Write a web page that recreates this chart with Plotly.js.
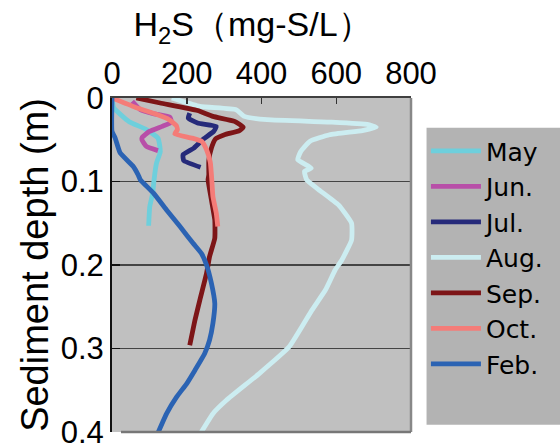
<!DOCTYPE html>
<html>
<head>
<meta charset="utf-8">
<script src="https://cdn.plot.ly/plotly-3.0.1.min.js"></script>
<style>html,body{margin:0;padding:0;background:#fff;}#chart{width:560px;height:446px;}</style>
</head>
<body>
<div id="chart"></div>
<script>
// H2S (mg-S/L) vs sediment depth (m)
const mayX = [0, 5, 45, 93, 123, 128, 129, 119, 112, 109, 101, 98];
const mayY = [0, 0.012, 0.028, 0.038, 0.048, 0.058, 0.065, 0.078, 0.1, 0.114, 0.130, 0.153];

const junX = [54, 76, 113, 155, 159, 134, 100, 81, 80, 92, 123];
const junY = [0.004, 0.014, 0.019, 0.023, 0.029, 0.034, 0.040, 0.047, 0.050, 0.058, 0.063];

const julX = [208, 204, 229, 279, 272, 245, 219, 190, 192, 237];
const julY = [0.018, 0.024, 0.030, 0.034, 0.040, 0.049, 0.060, 0.068, 0.075, 0.083];

const augX = [160, 235, 332, 354, 415, 588, 686, 707, 670, 582, 529, 505, 497, 533, 515, 521, 551, 606, 641, 641, 615, 597, 571, 535, 474, 394, 306, 270, 239];
const augY = [0, 0.010, 0.014, 0.022, 0.026, 0.029, 0.032, 0.035, 0.039, 0.044, 0.052, 0.064, 0.074, 0.084, 0.088, 0.098, 0.109, 0.128, 0.150, 0.170, 0.194, 0.206, 0.230, 0.254, 0.298, 0.330, 0.362, 0.378, 0.4];

const sepX = [65, 129, 229, 270, 328, 351, 341, 301, 277, 266, 259, 259, 257, 266, 275, 275, 261, 253, 235, 222, 208];
const sepY = [0, 0.006, 0.015, 0.022, 0.028, 0.035, 0.039, 0.044, 0.049, 0.060, 0.075, 0.092, 0.098, 0.122, 0.146, 0.168, 0.190, 0.210, 0.242, 0.266, 0.296];

const octX = [0, 62, 115, 153, 172, 175, 168, 214, 240, 253, 263, 267, 270, 279, 283];
const octY = [0, 0.011, 0.019, 0.026, 0.033, 0.038, 0.043, 0.048, 0.052, 0.062, 0.077, 0.098, 0.118, 0.138, 0.154];

const febX = [0, 0, 8.5, 22, 57, 70, 76, 111, 146, 182, 217, 239, 253, 266, 275, 270, 261, 248, 222, 200, 173, 146, 124];
const febY = [0, 0.040, 0.048, 0.066, 0.082, 0.092, 0.098, 0.114, 0.134, 0.154, 0.174, 0.186, 0.200, 0.222, 0.246, 0.270, 0.290, 0.306, 0.326, 0.342, 0.358, 0.378, 0.4];

const xTicks = [0, 200, 400, 600, 800];
const yTicks = [0, 0.1, 0.2, 0.3, 0.4];
const yTickText = ["0", "0.1", "0.2", "0.3", "0.4"];

const series = [
  {name: "May",  x: mayX, y: mayY, color: "#6ecfdc"},
  {name: "Jun.", x: junX, y: junY, color: "#b84fa8"},
  {name: "Jul.", x: julX, y: julY, color: "#262a7a"},
  {name: "Aug.", x: augX, y: augY, color: "#ccedf1"},
  {name: "Sep.", x: sepX, y: sepY, color: "#7d1517"},
  {name: "Oct.", x: octX, y: octY, color: "#f47c78"},
  {name: "Feb.", x: febX, y: febY, color: "#2b63b3"}
];

const traces = series.map(s => ({
  type: "scatter", mode: "lines", name: s.name, x: s.x, y: s.y,
  line: {color: s.color, width: 4.8, shape: "spline", smoothing: 0.4}
}));

const F = "Liberation Sans, Arial, sans-serif";
const layout = {
  width: 560, height: 446,
  margin: {l: 112, r: 147, t: 98, b: 14, pad: 0},
  paper_bgcolor: "#ffffff",
  plot_bgcolor: "#c0c0c0",
  font: {family: F, color: "#000", size: 30},
  showlegend: true,
  title: {
    text: "H<sub>2</sub>S（mg-S/L）",
    font: {family: F, size: 34, color: "#000"},
    xref: "paper", x: 0.47, xanchor: "center",
    yref: "container", y: 0.945, yanchor: "middle"
  },
  xaxis: {
    side: "top", range: [0, 800], tickvals: xTicks,
    ticks: "inside", ticklen: 6, tickcolor: "#333", tickwidth: 1.5,
    showgrid: false, zeroline: false,
    showline: true, linecolor: "#404040", linewidth: 2,
    tickfont: {family: F, size: 31, color: "#000"},
    fixedrange: true
  },
  yaxis: {
    range: [0.4, 0], tickvals: yTicks, ticktext: yTickText,
    ticks: "inside", ticklen: 8, tickcolor: "#111", tickwidth: 1.5,
    ticklabeloverflow: "allow",
    showgrid: true, gridcolor: "#444", gridwidth: 1.3,
    zeroline: false, showline: true, linecolor: "#111", linewidth: 2,
    tickfont: {family: F, size: 31, color: "#000"},
    title: {text: "Sediment depth (m)", font: {family: F, size: 38, color: "#000"}, standoff: 0},
    fixedrange: true
  },
  legend: {
    x: 1.05, xanchor: "left", y: 0.91, yanchor: "top",
    bgcolor: "rgba(0,0,0,0)", borderwidth: 0,
    font: {family: "DejaVu Sans, sans-serif", size: 25, color: "#000"},
    itemwidth: 50, tracegroupgap: 0
  },
  shapes: [
    {type: "rect", xref: "paper", yref: "paper", x0: 1.052, x1: 1.5, y0: 0.022, y1: 0.911,
     fillcolor: "#b3b3b3", line: {width: 0}, layer: "below"},
    {type: "line", xref: "paper", yref: "paper", x0: 1, x1: 1, y0: 0, y1: 1,
     line: {color: "#888", width: 2.5}},
    {type: "line", xref: "paper", yref: "paper", x0: 0.03, x1: 1, y0: 0, y1: 0,
     line: {color: "#777", width: 2.5}}
  ]
};

Plotly.newPlot("chart", traces, layout, {displayModeBar: false, staticPlot: true});
</script>
</body>
</html>
